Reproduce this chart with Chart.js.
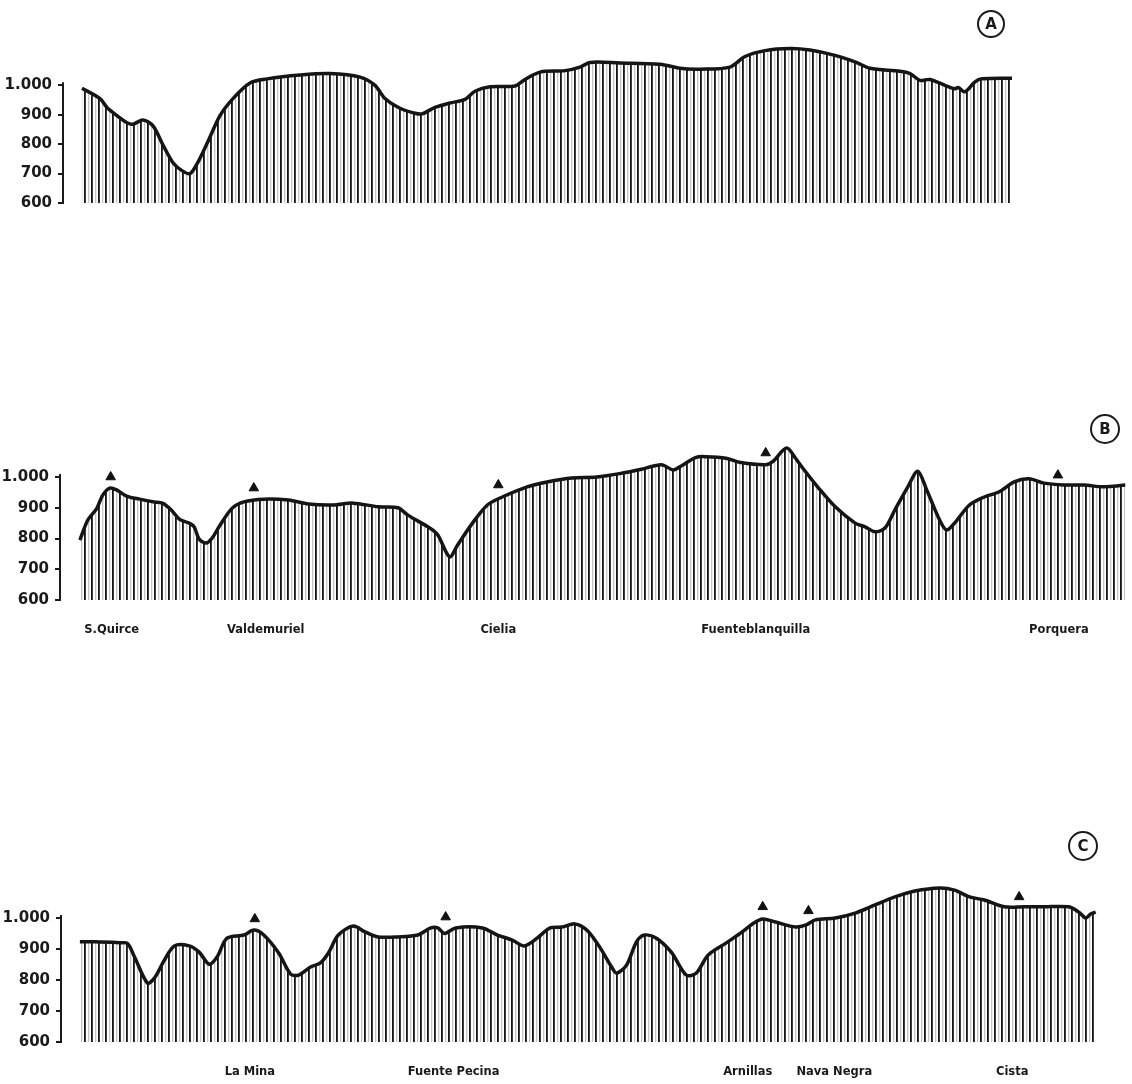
<!DOCTYPE html>
<html lang="es">
<head>
<meta charset="utf-8">
<title>Perfiles topográficos A, B, C</title>
<script src="https://cdn.jsdelivr.net/npm/chart.js@4.4.1/dist/chart.umd.min.js"></script>
<style>
  body { margin: 0; background: #fff; }
  .perfil { position: absolute; left: 0; }
  canvas { display: block; }
</style>
</head>
<body>
<div class="perfil" style="top:0"><canvas id="chartA" width="1132" height="218"></canvas></div>
<div class="perfil" style="top:400px"><canvas id="chartB" width="1132" height="245"></canvas></div>
<div class="perfil" style="top:820px"><canvas id="chartC" width="1132" height="264"></canvas></div>
<script>
// Eje de altitudes (m)
const yTicks = [600, 700, 800, 900, 1000];
const yTickLabels = ['600', '700', '800', '900', '1.000'];

// Perfil A: distancia (unidades del dibujo) y altitud
const distA = [0, 18, 25, 35, 45, 51, 61, 71, 81, 91, 100, 108, 115, 125, 138, 151, 168, 185, 218, 248,
  278, 293, 303, 318, 333, 340, 353, 368, 383, 393, 408, 433, 443, 458, 483, 498, 508, 538, 578, 598,
  618, 648, 663, 683, 708, 728, 753, 773, 788, 818, 828, 838, 848, 863, 873, 876, 883, 893, 900, 930];
const altA = [990, 955, 925, 897, 873, 868, 882, 862, 797, 737, 710, 700, 733, 802, 897, 955, 1008, 1022, 1035, 1040,
  1028, 1000, 955, 922, 905, 903, 925, 940, 952, 980, 995, 998, 1020, 1045, 1050, 1062, 1078, 1076, 1072, 1058,
  1055, 1062, 1098, 1118, 1125, 1120, 1102, 1080, 1058, 1048, 1040, 1017, 1020, 1000, 988, 993, 978, 1012, 1022, 1024];

// Perfil B
const distB = [0, 8, 17, 23, 30, 37, 47, 60, 75, 83, 92, 100, 110, 115, 120, 127, 133, 140, 153, 165,
  185, 210, 230, 255, 275, 300, 320, 330, 352, 360, 372, 380, 395, 410, 425, 450, 470, 495, 520, 545,
  565, 585, 597, 605, 620, 630, 650, 665, 690, 697, 711, 720, 727, 743, 760, 780, 790, 800, 810, 820,
  833, 843, 852, 865, 872, 880, 895, 910, 925, 940, 955, 970, 990, 1010, 1030, 1052];
const altB = [795, 860, 898, 941, 964, 958, 938, 928, 919, 915, 893, 863, 850, 838, 798, 785, 801, 838, 898, 919,
  928, 925, 912, 909, 915, 903, 900, 876, 834, 812, 740, 779, 850, 909, 935, 968, 984, 997, 1000, 1012,
  1025, 1040, 1023, 1036, 1064, 1066, 1061, 1047, 1040, 1050, 1094, 1061, 1030, 965, 903, 850, 838, 822, 834, 893,
  968, 1019, 958, 860, 828, 850, 909, 935, 952, 984, 994, 980, 974, 974, 968, 974];
const vertDistB = [31, 175, 421, 690, 984];
const vertAltB = [1000, 964, 974, 1078, 1006];
const lugarDistB = [32, 187, 421, 680, 985];
const lugaresB = ['S.Quirce', 'Valdemuriel', 'Cielia', 'Fuenteblanquilla', 'Porquera'];

// Perfil C
const distC = [0, 15, 40, 48, 55, 68, 75, 85, 95, 110, 120, 130, 138, 148, 165, 175, 185, 200, 212, 220,
  232, 242, 250, 260, 275, 287, 300, 320, 340, 353, 360, 367, 378, 405, 420, 435, 447, 460, 473, 485,
  498, 510, 523, 535, 540, 550, 560, 568, 580, 595, 610, 620, 632, 650, 665, 678, 687, 700, 720, 730,
  740, 760, 780, 800, 820, 840, 865, 880, 895, 910, 930, 950, 970, 995, 1005, 1012, 1017, 1022];
const altC = [923, 923, 920, 918, 874, 790, 806, 864, 910, 910, 890, 851, 874, 935, 945, 961, 945, 887, 819, 816,
  842, 855, 887, 945, 974, 955, 939, 939, 945, 968, 968, 950, 968, 968, 945, 929, 910, 935, 968, 971,
  981, 961, 906, 842, 822, 848, 923, 945, 935, 890, 816, 822, 880, 919, 952, 984, 997, 987, 971, 977,
  994, 1000, 1016, 1042, 1068, 1087, 1097, 1090, 1068, 1058, 1036, 1036, 1036, 1036, 1019, 1000, 1013, 1019];
const vertDistC = [176, 368, 687, 733, 945];
const vertAltC = [997, 1003, 1036, 1023, 1068];
const lugarDistC = [171, 376, 672, 759, 938];
const lugaresC = ['La Mina', 'Fuente Pecina', 'Arnillas', 'Nava Negra', 'Cista'];

// Trama de rayado vertical
function crearRayado(ctx) {
  const c = document.createElement('canvas');
  c.width = 7; c.height = 8;
  const g = c.getContext('2d');
  g.fillStyle = '#161616'; g.fillRect(0, 0, 1, 8);
  g.fillStyle = '#3c3c3c'; g.fillRect(1, 0, 1, 8);
  g.fillStyle = '#c4c4c4'; g.fillRect(4, 0, 1, 8);
  g.fillStyle = '#ececec'; g.fillRect(5, 0, 1, 8);
  return ctx.createPattern(c, 'repeat');
}

// Línea del eje vertical, solo de 600 a 1.000
const ejeVertical = {
  id: 'ejeVertical',
  beforeDatasetsDraw(chart) {
    const y = chart.scales.y, ctx = chart.ctx;
    const x = chart.chartArea.left;
    ctx.save();
    ctx.strokeStyle = '#1a1a1a';
    ctx.lineWidth = 2;
    ctx.beginPath();
    ctx.moveTo(x, y.getPixelForValue(yTicks[yTicks.length - 1]) - 3);
    ctx.lineTo(x, y.getPixelForValue(yTicks[0]) + 1);
    ctx.stroke();
    ctx.restore();
  }
};

// Letra en círculo (A, B, C)
const letraCirculo = {
  id: 'letraCirculo',
  afterDraw(chart, args, opts) {
    if (!opts.texto) return;
    const ctx = chart.ctx;
    ctx.save();
    ctx.strokeStyle = '#1a1a1a';
    ctx.lineWidth = 2;
    ctx.beginPath();
    ctx.arc(opts.x, opts.y, opts.r, 0, Math.PI * 2);
    ctx.stroke();
    ctx.fillStyle = '#1a1a1a';
    ctx.font = 'bold 15px "DejaVu Sans"';
    ctx.textAlign = 'center';
    ctx.textBaseline = 'middle';
    ctx.fillText(opts.texto, opts.x, opts.y + 1);
    ctx.restore();
  }
};

function crearPerfil(id, dist, alt, cfg) {
  const ctx = document.getElementById(id).getContext('2d');
  const datasets = [{
    data: dist.map((d, i) => ({ x: d, y: alt[i] })),
    borderColor: '#151515',
    borderWidth: 3.5,
    backgroundColor: crearRayado(ctx),
    fill: 'start',
    pointRadius: 0,
    tension: 0.3
  }];
  if (cfg.vertDist) {
    datasets.push({
      data: cfg.vertDist.map((d, i) => ({ x: d, y: cfg.vertAlt[i] })),
      showLine: false,
      pointStyle: 'triangle',
      pointRadius: 5.5,
      backgroundColor: '#111',
      borderColor: '#111',
      borderWidth: 1
    });
  }

  const ejeX = {
    type: 'linear',
    min: cfg.xMin,
    max: cfg.xMax,
    display: !!cfg.lugares,
    grid: { display: false, drawTicks: false },
    border: { display: false },
    afterFit: s => { s.height = cfg.alturaEjeX || 0; }
  };
  if (cfg.lugares) {
    ejeX.afterBuildTicks = s => { s.ticks = cfg.lugarDist.map(v => ({ value: v })); };
    ejeX.ticks = {
      autoSkip: false,
      maxRotation: 0,
      padding: 23,
      color: '#1a1a1a',
      font: { family: '"DejaVu Sans"', size: 11.5, weight: 'bold' },
      callback: (v) => cfg.lugares[cfg.lugarDist.indexOf(v)]
    };
  }

  return new Chart(ctx, {
    type: 'line',
    data: { datasets: datasets },
    options: {
      responsive: false,
      animation: false,
      layout: { padding: { left: 0, right: 0, top: cfg.padTop, bottom: cfg.padBottom } },
      plugins: {
        legend: { display: false },
        tooltip: { enabled: false },
        letraCirculo: cfg.letra
      },
      scales: {
        x: ejeX,
        y: {
          min: 600,
          max: 1200,
          afterFit: s => { s.width = cfg.anchoEjeY; },
          afterBuildTicks: s => { s.ticks = yTicks.map(v => ({ value: v })); },
          grid: { drawOnChartArea: false, drawTicks: true, tickLength: 5, color: '#1a1a1a', lineWidth: 2 },
          border: { display: false },
          ticks: {
            padding: 6,
            color: '#1a1a1a',
            font: { family: '"DejaVu Sans"', size: 15, weight: 'bold' },
            callback: (v) => yTickLabels[yTicks.indexOf(v)]
          }
        }
      }
    },
    plugins: [ejeVertical, letraCirculo]
  });
}

crearPerfil('chartA', distA, altA, {
  xMin: -19, xMax: 1050, anchoEjeY: 63, padTop: 26.5, padBottom: 10,
  letra: { texto: 'A', x: 991, y: 24, r: 13 }
});

crearPerfil('chartB', distB, altB, {
  xMin: -20, xMax: 1052, anchoEjeY: 60, padTop: 15.5, padBottom: 0, alturaEjeX: 45,
  vertDist: vertDistB, vertAlt: vertAltB,
  lugarDist: lugarDistB, lugares: lugaresB,
  letra: { texto: 'B', x: 1105, y: 29, r: 14 }
});

crearPerfil('chartC', distC, altC, {
  xMin: -19, xMax: 1052, anchoEjeY: 61, padTop: 36, padBottom: 0, alturaEjeX: 42,
  vertDist: vertDistC, vertAlt: vertAltC,
  lugarDist: lugarDistC, lugares: lugaresC,
  letra: { texto: 'C', x: 1083, y: 26, r: 14 }
});
</script>
</body>
</html>
